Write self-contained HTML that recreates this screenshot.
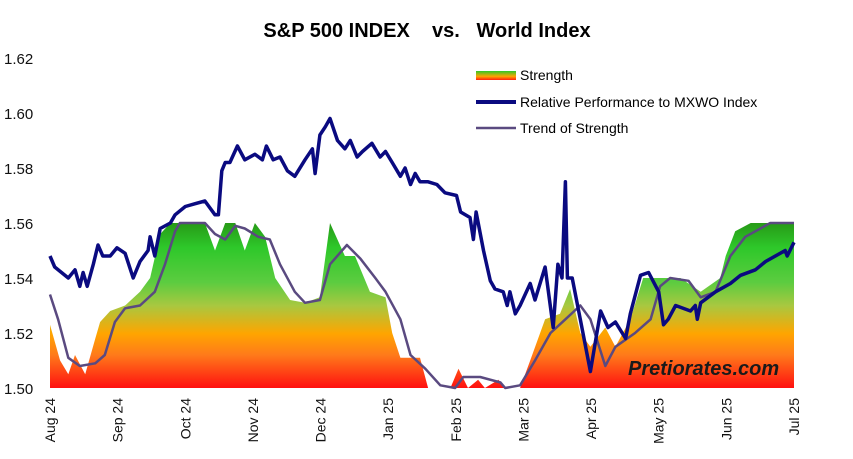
<!DOCTYPE html>
<html><head><meta charset="utf-8"><style>
body{margin:0;background:#fff;}
svg{display:block;font-family:"Liberation Sans",sans-serif;}
</style></head><body>
<svg id="chart" width="853" height="459">
<defs>
<linearGradient id="sg" gradientUnits="userSpaceOnUse" x1="0" y1="388" x2="0" y2="223">
<stop offset="0" stop-color="#ff1010"/>
<stop offset="0.2" stop-color="#ff7a1a"/>
<stop offset="0.33" stop-color="#ffa500"/>
<stop offset="0.5" stop-color="#a8c840"/>
<stop offset="0.64" stop-color="#5ccc40"/>
<stop offset="0.85" stop-color="#2ec82a"/>
<stop offset="1" stop-color="#279a17"/>
</linearGradient>
<linearGradient id="lg" x1="0" y1="0" x2="0" y2="1">
<stop offset="0" stop-color="#2ec82a"/><stop offset="0.6" stop-color="#ffa500"/><stop offset="1" stop-color="#ff2010"/>
</linearGradient>
</defs>
<text x="427" y="37" text-anchor="middle" font-size="20" font-weight="bold" xml:space="preserve">S&amp;P 500 INDEX    vs.   World Index</text>
<g id="yaxis"></g>
<g id="xaxis"></g>
<g id="series"></g>
<text x="628" y="375" font-size="20" font-weight="bold" font-style="italic" fill="#1a1a1a">Pretiorates.com</text>
<g>
<g><rect x="476" y="71" width="40" height="9" fill="url(#lg)"/><text x="520" y="80" font-size="14">Strength</text></g>
<g><line x1="476" y1="102" x2="516" y2="102" stroke="#0a0a80" stroke-width="4"/><text x="520" y="107" font-size="14">Relative Performance to MXWO Index</text></g>
<g><line x1="476" y1="128" x2="516" y2="128" stroke="#5a4a80" stroke-width="2.5"/><text x="520" y="133" font-size="14">Trend of Strength</text></g>
</g>
</svg>
<script>
const monthLabels=["Aug 24","Sep 24","Oct 24","Nov 24","Dec 24","Jan 25","Feb 25","Mar 25","Apr 25","May 25","Jun 25","Jul 25"];
const yTicks=[1.50,1.52,1.54,1.56,1.58,1.60,1.62];
const relT=[0,0.07,0.27,0.37,0.44,0.49,0.55,0.64,0.71,0.78,0.89,0.99,1.11,1.23,1.33,1.45,1.48,1.55,1.63,1.78,1.85,2.00,2.14,2.29,2.44,2.49,2.54,2.59,2.66,2.77,2.88,3.03,3.14,3.20,3.30,3.40,3.51,3.62,3.77,3.88,3.92,3.99,4.07,4.14,4.25,4.36,4.44,4.54,4.62,4.76,4.88,4.96,5.06,5.18,5.25,5.33,5.40,5.47,5.59,5.72,5.84,6.01,6.07,6.21,6.26,6.30,6.41,6.51,6.58,6.70,6.76,6.80,6.88,6.95,7.10,7.17,7.32,7.44,7.51,7.57,7.62,7.65,7.72,7.84,7.99,8.14,8.25,8.36,8.51,8.58,8.73,8.85,9.00,9.07,9.14,9.25,9.47,9.54,9.57,9.62,9.84,10.06,10.21,10.43,10.58,10.87,10.90,11.00];
const relV=[1.548,1.544,1.540,1.543,1.537,1.542,1.537,1.545,1.552,1.548,1.548,1.551,1.549,1.540,1.546,1.550,1.555,1.548,1.558,1.560,1.563,1.566,1.567,1.568,1.563,1.563,1.579,1.582,1.582,1.588,1.583,1.585,1.583,1.588,1.583,1.584,1.579,1.577,1.583,1.587,1.578,1.592,1.595,1.598,1.590,1.587,1.590,1.584,1.586,1.589,1.584,1.586,1.582,1.577,1.580,1.574,1.578,1.575,1.575,1.574,1.571,1.570,1.564,1.562,1.554,1.564,1.550,1.539,1.536,1.535,1.530,1.535,1.527,1.530,1.538,1.532,1.544,1.522,1.545,1.540,1.575,1.540,1.540,1.525,1.506,1.528,1.522,1.524,1.518,1.527,1.541,1.542,1.535,1.523,1.525,1.530,1.528,1.530,1.525,1.531,1.535,1.538,1.541,1.543,1.546,1.550,1.548,1.553];
const trendT=[0,0.12,0.27,0.44,0.67,0.81,0.96,1.11,1.33,1.55,1.70,1.85,1.92,2.29,2.44,2.59,2.74,2.88,3.08,3.25,3.40,3.62,3.77,3.99,4.14,4.39,4.59,4.81,4.96,5.18,5.33,5.55,5.77,5.99,6.11,6.36,6.66,6.73,6.95,7.17,7.40,7.62,7.84,7.99,8.21,8.36,8.65,8.88,9.02,9.17,9.44,9.62,9.84,10.06,10.28,10.65,11.00];
const trendV=[1.534,1.525,1.511,1.508,1.509,1.512,1.524,1.529,1.530,1.535,1.545,1.557,1.560,1.560,1.556,1.554,1.559,1.558,1.555,1.554,1.545,1.535,1.531,1.532,1.545,1.552,1.547,1.540,1.535,1.525,1.512,1.507,1.501,1.500,1.504,1.504,1.502,1.500,1.501,1.510,1.520,1.525,1.530,1.525,1.508,1.515,1.520,1.525,1.537,1.540,1.539,1.533,1.535,1.548,1.555,1.560,1.560];
const strT=[0,0.15,0.27,0.37,0.52,0.67,0.74,0.89,1.11,1.33,1.48,1.63,1.78,2.29,2.44,2.59,2.74,2.88,3.03,3.18,3.33,3.55,3.77,3.99,4.14,4.36,4.51,4.73,4.96,5.06,5.18,5.47,5.59,5.92,6.04,6.18,6.33,6.43,6.63,6.73,6.95,7.10,7.32,7.54,7.69,7.84,7.99,8.21,8.36,8.58,8.77,9.32,9.62,9.91,9.99,10.13,10.36,11.00];
const strV=[1.523,1.510,1.505,1.512,1.505,1.518,1.524,1.528,1.530,1.535,1.540,1.556,1.560,1.560,1.550,1.560,1.560,1.550,1.560,1.555,1.540,1.532,1.531,1.533,1.560,1.548,1.548,1.535,1.533,1.520,1.511,1.511,1.500,1.500,1.507,1.500,1.503,1.500,1.503,1.500,1.500,1.510,1.525,1.527,1.536,1.520,1.515,1.522,1.515,1.525,1.540,1.540,1.535,1.540,1.548,1.557,1.560,1.560];

const NS="http://www.w3.org/2000/svg";
const X0=50,X1=794,Y0=388,Y1=58;
function xs(t){return X0+(X1-X0)*t/11;}
function ys(v){return Y0-(v-1.50)/(0.12)*(Y0-Y1);}
function mk(tag,attrs,parent){const e=document.createElementNS(NS,tag);for(const k in attrs)e.setAttribute(k,attrs[k]);parent.appendChild(e);return e;}
const ya=document.getElementById('yaxis'),xa=document.getElementById('xaxis'),sr=document.getElementById('series');
yTicks.forEach(v=>{const t=mk('text',{x:4,y:ys(v)+6,'font-size':15,fill:'#111'},ya);t.textContent=v.toFixed(2);

});
monthLabels.forEach((m,i)=>{const x=xs(i);const t=mk('text',{x:0,y:0,'font-size':14,fill:'#111','text-anchor':'end',transform:`translate(${x+5},398) rotate(-90)`},xa);t.textContent=m;

});
let d=`M${xs(strT[0])},${Y0}`;strT.forEach((t,i)=>{d+=`L${xs(t).toFixed(1)},${ys(strV[i]).toFixed(1)}`;});d+=`L${xs(strT[strT.length-1])},${Y0}Z`;
const area=mk('path',{d:d,fill:'url(#sg)'},sr);


function line(T,V,col,w){const p=mk('path',{d:T.map((t,i)=>(i?'L':'M')+xs(t).toFixed(1)+','+ys(V[i]).toFixed(1)).join(''),fill:'none',stroke:col,'stroke-width':w,'stroke-linejoin':'round'},sr);return p;}
const tl=line(trendT,trendV,'#5a4a80',2.5);


const rl=line(relT,relV,'#0a0a80',3.5);


</script>
</body></html>
